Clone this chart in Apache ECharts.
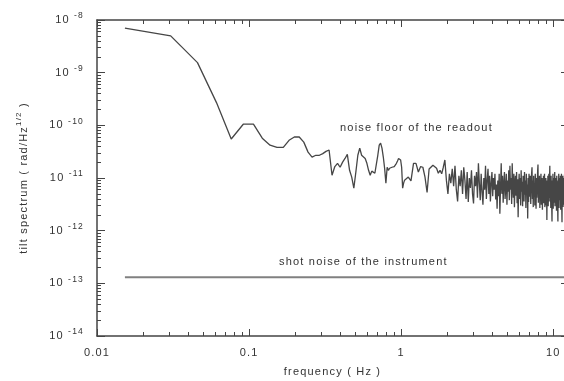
<!DOCTYPE html>
<html>
<head>
<meta charset="utf-8">
<script src="https://cdn.jsdelivr.net/npm/echarts@6/dist/echarts.min.js"></script>
<style>
  html, body { margin: 0; padding: 0; background: #fff; }
  #chart { width: 564px; height: 381px; }
</style>
</head>
<body>
<div id="chart"></div>
<script>
// spectrum bins are spaced by df (Hz); values are in units of 1e-12 rad/Hz^1/2
const df = 0.01526

// bins 1..69
const lowBins = [
  7000, 5000, 1550, 270, 55, 105, 105, 57, 42, 38, 38, 52, 60, 60, 48, 31, 25, 27, 27, 29, 32, 34,
  11.3, 16.5, 19, 16, 20, 23.5, 28, 14, 10.4, 6.4, 13, 27, 37, 27, 29, 23.5, 19, 14, 11.3, 13.5, 14, 12.3, 13,
  27, 42, 46, 37, 25, 15.3, 8, 16, 14, 15.3, 14.8, 16, 15.3, 16.5, 17.5, 19, 21, 23.5, 25, 22, 16, 6.4, 8, 9.1,
]

// bins 70, 73, 76 ... 790 (every third bin)
const highBins = [
  8.8, 10.4, 8.8, 19, 19, 13, 16.5, 16, 10.4, 5.3, 14.8, 15.3, 17.5, 19, 15.3, 12.3, 14,
  12, 16, 22, 9, 5, 12, 8, 15, 7, 17,
  6, 3.6, 11, 7, 14, 5, 16, 9, 4, 13, 3.5, 10, 6.5, 14, 5, 3.3, 11,
  7, 13, 4.2, 19, 8, 3.8, 12, 5.5, 3.1, 10, 6, 17, 4, 9, 15, 5, 11, 3.6, 8, 13, 4.5, 10, 6, 12, 3.9, 7.5, 2.6,
  9, 4.5, 12, 2.1, 7, 19, 5, 11, 3.4, 8,
  13, 4, 6.5, 12, 3.1, 9, 5.5, 14, 3.8, 17,
  6, 10, 3.2, 19, 7, 4.2, 12, 2.8, 8, 11,
  4.6, 13, 3.3, 9.5, 1.8, 7, 12, 4, 10, 3,
  14, 5.5, 8.5, 2.9, 11, 6, 3.6, 13, 4.8, 9,
  2.7, 12, 5, 7.5, 1.7, 10, 3.5, 12, 4.4, 8,
  11, 3.2, 7, 12, 16, 4, 9, 2.8, 11, 5,
  8, 3, 12, 6, 2.6, 10, 4.2, 7, 13, 18,
  3.4, 9, 5.5, 11, 2.7, 8, 4, 12, 3.1, 6.5,
  10, 2.5, 9, 4.6, 11, 3.3, 7, 12, 2.8, 8.5,
  5, 10, 3, 6, 1.6, 9, 4, 11, 2.9, 7.5,
  12, 3.6, 9, 17, 4.2, 8, 2.7, 11, 5, 3.2,
  1.5, 9, 4.5, 12, 2.6, 7, 10, 3.4, 8, 13,
  2.9, 6, 10, 3.5, 8.5, 2.4, 11, 5, 7, 3,
  1.5, 9, 4, 12, 2.7, 7, 10, 3.8, 6, 11,
  2.5, 8, 4.4, 12, 3, 1.45, 9, 5, 11, 2.8,
  7, 4, 10,
  3.1, 8, 12, 2.9, 6, 10, 4,
]

const shotNoise = 1.3e-13
const xMin = 0.01
const xMax = 12.5
const yMin = 1e-14
const yMax = 1e-8
const xTicks = [0.01, 0.1, 1, 10]
const yTicks = [1e-14, 1e-13, 1e-12, 1e-11, 1e-10, 1e-9, 1e-8]

const xMinor = []
const yMinor = []
xTicks.slice(0, 3).forEach((d) => { for (let k = 2; k <= 9; k++) xMinor.push(+(k * d).toPrecision(3)) })
yTicks.slice(0, 6).forEach((d) => { for (let k = 2; k <= 9; k++) yMinor.push(k * d) })

const spectrum = []
lowBins.forEach((v, i) => spectrum.push([(i + 1) * df, v * 1e-12]))
highBins.forEach((v, i) => spectrum.push([(70 + 3 * i) * df, v * 1e-12]))

// the reference text is set with loose letter spacing; zrender has no option for it,
// so set it on the context both when measuring and when drawing
const ctxProto = CanvasRenderingContext2D.prototype
const fillText = ctxProto.fillText
const measureText = ctxProto.measureText
ctxProto.fillText = function (...args) {
  this.letterSpacing = '1.2px'
  return fillText.apply(this, args)
}
ctxProto.measureText = function (...args) {
  this.letterSpacing = '1.2px'
  return measureText.apply(this, args)
}

const font = '"Liberation Sans", Arial, sans-serif'
const ink = '#333'
const axisCol = '#444'

function frameAxis(pos, ticks, len, showLine) {
  return {
    type: 'log', logBase: 10, position: pos,
    min: pos === 'left' || pos === 'right' ? yMin : xMin,
    max: pos === 'left' || pos === 'right' ? yMax : xMax,
    axisLine: { show: showLine, lineStyle: { color: axisCol, width: 1.5 } },
    axisTick: { show: true, inside: true, length: len, customValues: ticks, lineStyle: { color: axisCol, width: 1 } },
    axisLabel: { show: false },
    splitLine: { show: false },
    minorTick: { show: false },
  }
}

const chart = echarts.init(document.getElementById('chart'), null, { renderer: 'canvas' })
chart.setOption({
  animation: false,
  backgroundColor: '#fff',
  textStyle: { fontFamily: font },
  grid: { left: 97, right: -4, top: 20, bottom: 45, outerBoundsMode: 'none' },
  xAxis: [
    Object.assign(frameAxis('bottom', xTicks, 7, true), {
      axisLabel: {
        show: true, customValues: xTicks, margin: 11,
        color: ink, fontSize: 11, fontFamily: font,
        formatter: (v) => String(+(+v).toPrecision(2)),
      },
      name: 'frequency ( Hz )', nameLocation: 'middle', nameGap: 30,
      nameTextStyle: { color: ink, fontSize: 11, fontFamily: font },
    }),
    frameAxis('bottom', xMinor, 4, false),
    frameAxis('top', xTicks, 7, true),
    frameAxis('top', xMinor, 4, false),
  ],
  yAxis: [
    Object.assign(frameAxis('left', yTicks, 8, true), {
      axisLabel: {
        show: true, customValues: yTicks, margin: 13,
        formatter: (v) => '{b|10 }{e|' + Math.round(Math.log10(v)) + '}',
        rich: {
          b: { fontSize: 11, lineHeight: 18, color: ink, fontFamily: font },
          e: { fontSize: 8.5, lineHeight: 8, verticalAlign: 'top', color: ink, fontFamily: font },
        },
      },
      name: '{a|tilt spectrum ( rad/Hz}{s|1/2}{a| )}', nameLocation: 'middle', nameGap: 64,
      nameTextStyle: {
        rich: {
          a: { fontSize: 11, lineHeight: 19, color: ink, fontFamily: font },
          s: { fontSize: 8, lineHeight: 8, verticalAlign: 'top', color: ink, fontFamily: font },
        },
      },
    }),
    frameAxis('left', yMinor, 4, false),
    frameAxis('right', yTicks, 7, true),
  ],
  series: [
    {
      name: 'readout', type: 'line', data: spectrum,
      symbol: 'none', silent: true,
      lineStyle: { color: '#464646', width: 1.3 },
    },
    {
      name: 'shot noise', type: 'line', data: [[df, shotNoise], [xMax, shotNoise]],
      symbol: 'none', silent: true,
      lineStyle: { color: '#808080', width: 2 },
    },
  ],
  graphic: [
    { type: 'text', left: 340, top: 122, style: { text: 'noise floor of the readout', font: '11px ' + font, fill: ink } },
    { type: 'text', left: 279, top: 256, style: { text: 'shot noise of the instrument', font: '11px ' + font, fill: ink } },
  ],
})
</script>
</body>
</html>
